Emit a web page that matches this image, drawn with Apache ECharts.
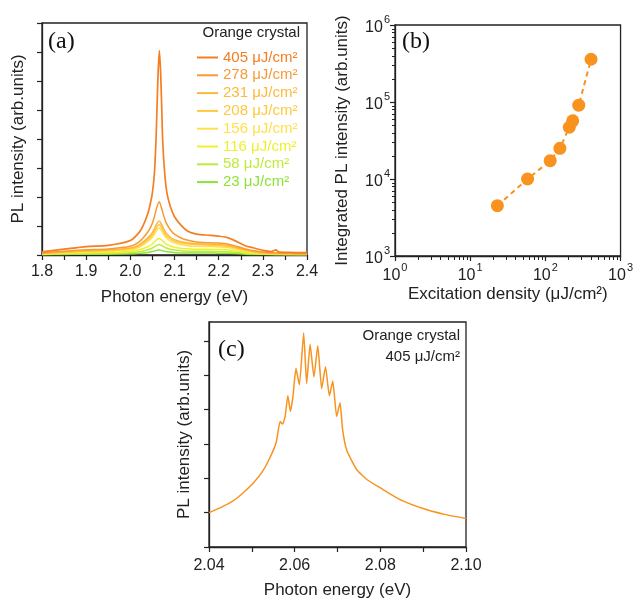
<!DOCTYPE html>
<html>
<head>
<meta charset="utf-8">
<script src="https://cdn.jsdelivr.net/npm/echarts@6/dist/echarts.min.js"></script>
<style>
html,body{margin:0;padding:0;background:#fff;}
#chart{width:636px;height:600px;}
</style>
</head>
<body>
<div id="chart"></div>
<script>
// ---------- Panel (a): PL spectra ----------
const doseLabels = ['405 μJ/cm²','278 μJ/cm²','231 μJ/cm²','208 μJ/cm²','156 μJ/cm²','116 μJ/cm²','58 μJ/cm²','23 μJ/cm²'];
const doseColors = ['#F47E22','#F79A36','#FDB93C','#FFC93F','#FFE04A','#EEF02C','#BDEB3A','#8BE334'];

const energy405 = [1.80,1.85,1.90,1.95,2.00,2.02,2.03,2.04,2.045,2.05,2.0545,2.058,2.0605,2.0628,2.0657,2.0687,2.071,2.0733,2.0778,2.083,2.09,2.10,2.115,2.13,2.15,2.18,2.20,2.22,2.24,2.26,2.28,2.30,2.32,2.33,2.335,2.36,2.40];
const int405 = [0.11,0.20,0.29,0.33,0.50,0.78,1.05,1.45,1.75,2.15,2.82,3.92,5.11,6.26,7.05,6.26,5.11,3.92,2.82,2.13,1.70,1.32,1.02,0.82,0.72,0.68,0.65,0.60,0.47,0.32,0.24,0.16,0.12,0.18,0.11,0.09,0.08];

const energyA = [1.80,1.85,1.90,1.95,2.00,2.02,2.04,2.05,2.055,2.06,2.0655,2.07,2.075,2.08,2.09,2.10,2.12,2.15,2.18,2.20,2.22,2.24,2.26,2.28,2.30,2.33,2.36,2.40];
const int278 = [0.07,0.13,0.18,0.21,0.30,0.45,0.80,1.10,1.35,1.65,1.84,1.65,1.38,1.15,0.88,0.72,0.55,0.45,0.42,0.41,0.38,0.30,0.21,0.15,0.10,0.07,0.06,0.05];
const int231 = [0.06,0.11,0.15,0.17,0.24,0.35,0.60,0.78,0.92,1.08,1.17,1.08,0.92,0.78,0.62,0.53,0.44,0.39,0.37,0.36,0.33,0.26,0.18,0.12,0.08,0.06,0.05,0.04];
const int208 = [0.05,0.10,0.14,0.16,0.22,0.32,0.54,0.70,0.83,0.97,1.05,0.97,0.83,0.70,0.56,0.48,0.40,0.36,0.34,0.33,0.30,0.24,0.16,0.11,0.07,0.05,0.04,0.03];
const int156 = [0.04,0.08,0.11,0.13,0.18,0.27,0.47,0.61,0.73,0.86,0.93,0.86,0.73,0.62,0.49,0.42,0.34,0.30,0.29,0.28,0.26,0.20,0.13,0.09,0.06,0.04,0.03,0.03];
const int116 = [0.03,0.06,0.08,0.09,0.13,0.18,0.29,0.38,0.46,0.53,0.57,0.53,0.46,0.39,0.31,0.27,0.22,0.20,0.20,0.19,0.18,0.14,0.09,0.06,0.04,0.03,0.02,0.02];
const int58  = [0.02,0.04,0.05,0.06,0.08,0.11,0.18,0.24,0.29,0.33,0.36,0.33,0.29,0.25,0.20,0.17,0.14,0.13,0.13,0.12,0.11,0.09,0.06,0.04,0.03,0.02,0.02,0.01];
const int23  = [0.01,0.02,0.03,0.03,0.04,0.06,0.09,0.12,0.14,0.16,0.18,0.16,0.14,0.12,0.10,0.08,0.07,0.07,0.07,0.06,0.06,0.05,0.03,0.02,0.02,0.01,0.01,0.01];

// ---------- Panel (b): integrated intensity ----------
const excitationDensity = [23, 58, 116, 156, 208, 231, 278, 405];
const integratedPL = [4500, 10000, 17300, 25000, 47000, 57000, 91000, 359000];
// minor tick values of the two log axes
const minorTicksX = [2,3,4,5,6,7,8,9,20,30,40,50,60,70,80,90,200,300,400,500,600,700,800,900];
const minorTicksY = [2000,3000,4000,5000,6000,7000,8000,9000,20000,30000,40000,50000,60000,70000,80000,90000,200000,300000,400000,500000,600000,700000,800000,900000];

// ---------- Panel (c): zoomed spectrum ----------
const energyC = [2.040,2.0426,2.0457,2.0480,2.0504,2.0525,2.0543,2.0557,2.0566,2.0572,2.0578,2.0584,2.0590,2.0596,2.0603,2.0611,2.0621,2.0628,2.0636,2.0645,2.0654,2.0663,2.0672,2.0681,2.0689,2.0698,2.0706,2.0712,2.0722,2.0745,2.0770,2.0800,2.0846,2.0900,2.0950,2.1000];
const intC = [1.00,1.14,1.35,1.58,1.87,2.20,2.62,3.05,3.65,3.58,3.82,4.40,3.95,4.38,5.20,4.72,6.23,4.76,5.90,4.95,5.86,4.61,5.25,4.40,4.83,3.80,4.20,3.41,2.80,2.25,1.95,1.72,1.38,1.12,0.95,0.83];

const FONT = '"Liberation Sans", Arial, sans-serif';
const SERIF = '"Liberation Serif", "Times New Roman", serif';
const AX = '#222';

function zip(xs, ys){ return xs.map((x,i)=>[x, ys[i]]); }

const baseAxis = {
  axisLine:{show:true, onZero:false, lineStyle:{color:AX, width:1.3}},
  axisTick:{show:true, inside:false, length:5, lineStyle:{color:AX, width:1.2}},
  splitLine:{show:false},
  axisLabel:{color:'#222', fontFamily:FONT, fontSize:16},
  nameTextStyle:{color:'#222', fontFamily:FONT, fontSize:17}
};
function ax(o){ return Object.assign({}, JSON.parse(JSON.stringify(baseAxis)), o); }

const supRich = {
  b:{fontSize:16, fontFamily:FONT, color:'#222', lineHeight:22, verticalAlign:'bottom'},
  s:{fontSize:11, fontFamily:FONT, color:'#222', lineHeight:22, verticalAlign:'top', padding:[0,0,0,1]}
};
function pow10(v){ return '{b|10}{s|' + Math.round(Math.log10(v)) + '}'; }

const seriesA = [
  int23, int58, int116, int156, int208, int231, int278
].map((arr, i) => {
  const idx = 7 - i;
  return {
    name: doseLabels[idx], type:'line', xAxisIndex:0, yAxisIndex:0,
    data: zip(energyA, arr), showSymbol:false, symbol:'none', smooth:0.25,
    lineStyle:{color:doseColors[idx], width:1.5}, itemStyle:{color:doseColors[idx]}
  };
});
seriesA.push({
  name: doseLabels[0], type:'line', xAxisIndex:0, yAxisIndex:0,
  data: zip(energy405, int405), showSymbol:false, symbol:'none', smooth:0.25,
  lineStyle:{color:doseColors[0], width:1.7}, itemStyle:{color:doseColors[0]}
});

// minor ticks of the log axes, drawn as short line segments just outside the axis
function minorTickRenderer(dir){
  return function(params, api){
    const p = api.coord([api.value(0), api.value(1)]);
    const x = Math.round(p[0]) + 0.5, y = Math.round(p[1]) + 0.5;
    const shape = dir === 'x'
      ? {x1:x, y1:y, x2:x, y2:y + 3.5}
      : {x1:x, y1:y, x2:x - 3.5, y2:y};
    return {type:'line', shape:shape, style:{stroke:AX, lineWidth:1}, silent:true};
  };
}

const option = {
  backgroundColor:'#fff',
  animation:false,
  grid:[
    {left:42, top:23, width:265, height:232, show:true, borderColor:AX, borderWidth:1.3},
    {left:395, top:25, width:228, height:231, show:true, borderColor:AX, borderWidth:1.3},
    {left:209, top:322, width:257, height:226, show:true, borderColor:AX, borderWidth:1.3}
  ],
  legend:{
    left:197, top:50, orient:'vertical', padding:0, itemGap:2.8,
    itemWidth:21, itemHeight:2, icon:'rect', selectedMode:false,
    textStyle:{fontFamily:FONT, fontSize:15, lineHeight:15},
    data: doseLabels.map((n,i)=>({name:n, textStyle:{color:doseColors[i]}}))
  },
  xAxis:[
    ax({gridIndex:0, type:'value', min:1.8, max:2.4, interval:0.05,
        name:'Photon energy (eV)', nameLocation:'middle', nameGap:34,
        axisLabel:{color:'#222', fontFamily:FONT, fontSize:16, margin:9,
          formatter:v => (Math.round(v*100) % 10 === 0 ? v.toFixed(1) : '')}}),
    ax({gridIndex:1, type:'log', logBase:10, min:1, max:1000,
        name:'Excitation density (μJ/cm²)', nameLocation:'middle', nameGap:30,
        axisLabel:{margin:6, formatter:pow10, rich:supRich}}),
    ax({gridIndex:2, type:'value', min:2.04, max:2.10, interval:0.01,
        name:'Photon energy (eV)', nameLocation:'middle', nameGap:35,
        axisLabel:{color:'#222', fontFamily:FONT, fontSize:16, margin:11,
          formatter:v => (Math.round(v*100) % 2 === 0 ? v.toFixed(2) : '')}})
  ],
  yAxis:[
    ax({gridIndex:0, type:'value', min:0, max:8, interval:1,
        name:'PL intensity (arb.units)', nameLocation:'middle', nameGap:15,
        axisLabel:{show:false}}),
    ax({gridIndex:1, type:'log', logBase:10, min:1000, max:1000000,
        name:'Integrated PL intensity (arb.units)', nameLocation:'middle', nameGap:44,
        axisLabel:{margin:5, formatter:pow10, rich:supRich}}),
    ax({gridIndex:2, type:'value', min:0, max:6.55,
        name:'PL intensity (arb.units)', nameLocation:'middle', nameGap:16,
        axisLabel:{show:false},
        axisTick:{show:true, length:5, customValues:[0,1,2,3,4,5,6], lineStyle:{color:AX, width:1.2}}})
  ],
  series: seriesA.concat([
    {
      name:'minorX', type:'custom', xAxisIndex:1, yAxisIndex:1, clip:false, silent:true,
      data: minorTicksX.map(v => [v, 1000]),
      renderItem: minorTickRenderer('x'), z:5
    },
    {
      name:'minorY', type:'custom', xAxisIndex:1, yAxisIndex:1, clip:false, silent:true,
      data: minorTicksY.map(v => [1, v]),
      renderItem: minorTickRenderer('y'), z:5
    },
    {
      name:'integrated', type:'line', xAxisIndex:1, yAxisIndex:1,
      data: zip(excitationDensity, integratedPL),
      symbol:'circle', symbolSize:13,
      itemStyle:{color:'#F7931E'},
      lineStyle:{color:'#F7931E', width:2, type:[5,4]}
    },
    {
      name:'zoom', type:'line', xAxisIndex:2, yAxisIndex:2,
      data: zip(energyC, intC), showSymbol:false, symbol:'none', smooth:0.15,
      lineStyle:{color:'#F7931E', width:1.5}
    }
  ]),
  graphic:[
    {type:'text', left:48, top:30, style:{text:'(a)', font:'24px ' + SERIF, fill:'#111'}},
    {type:'text', left:402, top:30, style:{text:'(b)', font:'24px ' + SERIF, fill:'#111'}},
    {type:'text', left:218, top:338, style:{text:'(c)', font:'24px ' + SERIF, fill:'#111'}},
    {type:'text', right:336, top:25, style:{text:'Orange crystal', font:'15px ' + FONT, fill:'#222'}},
    {type:'text', right:176, top:328, style:{text:'Orange crystal', font:'15px ' + FONT, fill:'#222'}},
    {type:'text', right:176, top:349, style:{text:'405 μJ/cm²', font:'15px ' + FONT, fill:'#222'}}
  ]
};

const chart = echarts.init(document.getElementById('chart'), null, {renderer:'canvas'});
chart.setOption(option);
</script>
</body>
</html>
